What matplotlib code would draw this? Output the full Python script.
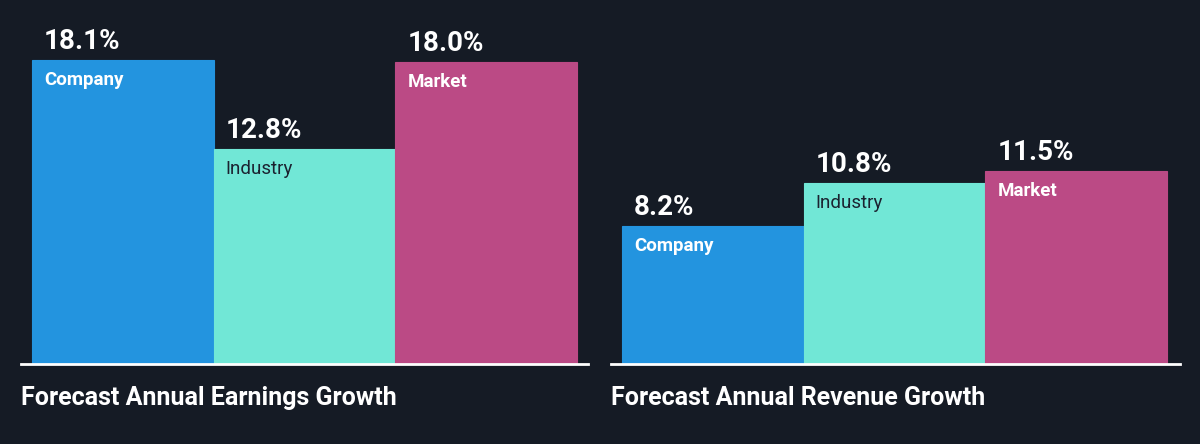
import numpy as np
import matplotlib.pyplot as plt

# data
categories = ['Company', 'Industry', 'Market']
earnings_growth = [18.1, 12.8, 18.0]
revenue_growth = [8.2, 10.8, 11.5]
titles = ['Forecast Annual Earnings Growth', 'Forecast Annual Revenue Growth']

bg = '#151b25'
bar_colors = ['#2394df', '#71e7d6', '#bb4a85']
label_colors = ['white', '#1b2230', 'white']
label_weights = ['bold', 'normal', 'bold']

plt.rcParams['font.family'] = ['Roboto', 'DejaVu Sans']

W, H = 1200, 444
fig = plt.figure(figsize=(12, 4.44), dpi=100, facecolor=bg)

# axes in pixel boxes: left, right of the baseline line
boxes = [(21, 588), (611, 1180)]
base_y = 364
px_per_unit = 181.7

for (x0, x1), values, title in zip(boxes, [earnings_growth, revenue_growth], titles):
    ax = fig.add_axes([x0 / W, (H - base_y) / H, (x1 - x0) / W, base_y / H])
    ax.set_facecolor(bg)
    pos = np.arange(len(values))
    ax.bar(pos, values, width=1.0, align='edge', color=bar_colors, edgecolor=bar_colors, linewidth=0.8)
    pad_l = 11 / px_per_unit
    pad_r = (x1 - x0) / px_per_unit - 3 - pad_l
    ax.set_xlim(-pad_l, 3 + pad_r)
    ax.set_ylim(0, base_y / 16.8)
    for s in ('top', 'right', 'left'):
        ax.spines[s].set_visible(False)
    ax.spines['bottom'].set_color('white')
    ax.spines['bottom'].set_linewidth(2)
    ax.set_xticks([])
    ax.set_yticks([])

    for i, v in enumerate(values):
        ax.annotate(f'{v:.1f}%', xy=(pos[i], v), xytext=(12, 11), textcoords='offset pixels',
                    ha='left', va='baseline', color='white', fontsize=20, fontweight='bold')
        ax.annotate(categories[i], xy=(pos[i], v), xytext=(12, -25), textcoords='offset pixels',
                    ha='left', va='baseline', color=label_colors[i], fontsize=13.5,
                    fontweight=label_weights[i])

    ax.annotate(title, xy=(0, 0), xycoords='axes fraction', xytext=(0, -41),
                textcoords='offset pixels', ha='left', va='baseline', color='white',
                fontsize=18, fontweight='bold')

fig.savefig('out.png', dpi=100, facecolor=bg)
